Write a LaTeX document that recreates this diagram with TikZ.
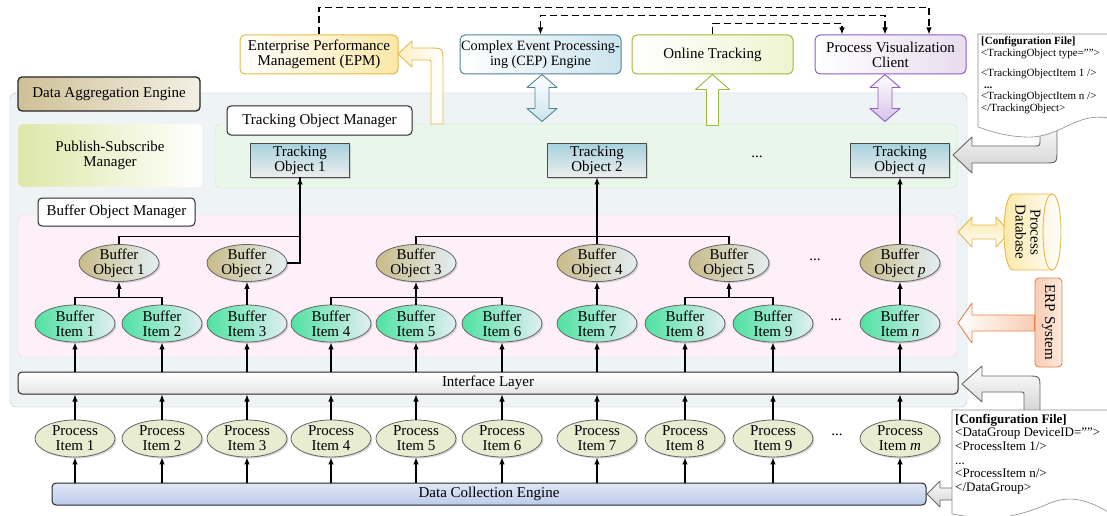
\documentclass[tikz,border=0pt]{standalone}
\usepackage{fontspec}
\setmainfont{Liberation Serif}
\usetikzlibrary{arrows.meta,shadows,shapes.geometric}

\definecolor{daefill}{HTML}{EEF3F6}
\definecolor{daeline}{HTML}{B9C5CD}
\definecolor{daetan}{HTML}{CFC196}
\definecolor{psmfill}{HTML}{DDE8A8}
\definecolor{tomfill}{HTML}{E8F7E9}
\definecolor{bomfill}{HTML}{FDF0F8}
\definecolor{botan}{HTML}{C9BB88}
\definecolor{boblue}{HTML}{E3EEF4}
\definecolor{bigreen}{HTML}{4FE2A2}
\definecolor{pifill}{HTML}{E8ECD1}
\definecolor{toblue}{HTML}{A6D2DE}
\definecolor{dceblue}{HTML}{BCCBEA}
\definecolor{epmdraw}{HTML}{E6B94A}
\definecolor{epmfill}{HTML}{FBE8A8}
\definecolor{cepdraw}{HTML}{4E8597}
\definecolor{cepfill}{HTML}{CBE4EE}
\definecolor{onldraw}{HTML}{9DBB3A}
\definecolor{onlfill}{HTML}{EEF5D0}
\definecolor{pvcdraw}{HTML}{8F5DC9}
\definecolor{pvcfill}{HTML}{E8DCEE}
\definecolor{erpdraw}{HTML}{E5834F}
\definecolor{erpfill}{HTML}{F8CDB3}

\begin{document}
\begin{tikzpicture}[x=1pt,y=-1pt,
  >={Latex[length=7pt,width=5.5pt]},
  every node/.append style={font=\fontsize{15pt}{15pt}\selectfont},
  link/.style={line width=1.1pt},
  dashlink/.style={line width=1.2pt, dash pattern=on 7pt off 4pt},
  tag/.style={draw=black!85, fill=white, line width=1pt, rounded corners=4pt},
  topbox/.style 2 args={draw=#1, left color=white, right color=#2, rounded corners=5pt,
    line width=1pt, minimum height=39pt, align=center, inner sep=1pt},
  oval/.style={ellipse, draw=black!60, line width=0.8pt, align=center,
    minimum width=80pt, minimum height=37pt, inner xsep=0pt, inner ysep=-1.5pt,
    drop shadow={shadow xshift=1.5pt, shadow yshift=-1.5pt, opacity=0.3}},
  bobj/.style={oval, left color=botan, right color=boblue},
  bitem/.style={oval, left color=bigreen, right color=boblue},
  pitem/.style={oval, fill=pifill},
  tobj/.style={draw=black!70, line width=0.9pt, top color=toblue, bottom color=black!7,
    minimum width=99pt, minimum height=34pt, inner sep=1pt, align=center,
    drop shadow={shadow xshift=1.5pt, shadow yshift=-1.5pt, opacity=0.3}},
  bar/.style={draw=black!85, line width=1pt, rounded corners=4pt, minimum height=22pt, inner sep=0pt},
  blk/.style={line width=0.9pt, line join=round},
  conf/.style={draw=black!45, fill=white, line width=0.6pt}
]
\useasboundingbox (0,0) rectangle (1107,516);
\fill[white] (0,0) rectangle (1107,516);

% Data aggregation engine with its managers
\node[draw=daeline, fill=daefill, rounded corners=6pt, minimum width=957pt, minimum height=314pt] (dae) at (488.5,250) {};
\node[tag, left color=daetan, right color=daetan!25, line width=1.3pt, minimum width=182pt, minimum height=34pt] (daetag) at (109,94) {Data Aggregation Engine};
\node[left color=psmfill, right color=white, draw=white, rounded corners=4pt, minimum width=184pt, minimum height=63pt, align=center] (psm) at (110,155.5) {Publish-Subscribe\\Manager};
\node[draw=green!15!gray!30, fill=tomfill, rounded corners=5pt, minimum width=742pt, minimum height=64pt] (tom) at (586,156) {};
\node[tag, minimum width=185pt, minimum height=29pt] (tomtag) at (319.5,120.5) {Tracking Object Manager};
\node[draw=red!10!gray!25, fill=bomfill, rounded corners=5pt, minimum width=939pt, minimum height=142pt] (bom) at (487.5,286) {};
\node[tag, minimum width=157pt, minimum height=28pt] (bomtag) at (116.5,212) {Buffer Object Manager};

% Tracking objects
\node[tobj] (to1) at (300,160) {Tracking\\Object 1};
\node[tobj] (to2) at (597,160) {Tracking\\Object 2};
\node[tobj] (toq) at (900,160) {Tracking\\Object \textit{q}};
\node (todots) at (757,157) {...};

% Buffer objects
\node[bobj] (bo1) at (119,263) {Buffer\\Object 1};
\node[bobj] (bo2) at (247,263) {Buffer\\Object 2};
\node[bobj] (bo3) at (416,263) {Buffer\\Object 3};
\node[bobj] (bo4) at (597,263) {Buffer\\Object 4};
\node[bobj] (bo5) at (729,263) {Buffer\\Object 5};
\node[bobj] (bop) at (900,263) {Buffer\\Object \textit{p}};
\node (bodots) at (815,260) {...};

% Buffer items and process items
\foreach \i/\x in {1/75,2/162,3/247,4/331,5/416,6/502,7/597,8/685,9/773}{
  \node[bitem] (bi\i) at (\x,323.5) {Buffer\\Item \i};
  \node[pitem] (pi\i) at (\x,438.5) {Process\\Item \i};
}
\node[bitem] (bin) at (900,323.5) {Buffer\\Item \textit{n}};
\node[pitem] (pim) at (900,438.5) {Process\\Item \textit{m}};
\node (bidots) at (836,320) {...};
\node (pidots) at (837,435) {...};

% Interface and collection layers
\node[bar, top color=white, bottom color=black!10, minimum width=940pt] (il) at (488,383) {Interface Layer};
\node[bar, top color=dceblue!45, bottom color=dceblue, minimum width=874pt] (dce) at (489,494) {Data Collection Engine};

% Links between the levels
\foreach \i in {1,2,3,4,5,6,7,8,9,n}
  \draw[link,->] (bi\i.south |- il.north) -- (bi\i.south);
\foreach \i in {1,2,3,4,5,6,7,8,9,m}{
  \draw[link,->] (pi\i.north) -- (pi\i.north |- il.south);
  \draw[link,->] (pi\i.south |- dce.north) -- (pi\i.south);
}
\draw[link] (bi1.north) -- ++(0,-7) -| (bi2.north);
\draw[link,->] (bo1.south |- bi1.north) ++(0,-7) -- (bo1.south);
\draw[link,->] (bi3.north) -- (bo2.south);
\draw[link] (bi4.north) -- ++(0,-7) -| (bi6.north);
\draw[link,->] (bi5.north) -- (bo3.south);
\draw[link,->] (bi7.north) -- (bo4.south);
\draw[link] (bi8.north) -- ++(0,-7) -| (bi9.north);
\draw[link,->] (bo5.south |- bi8.north) ++(0,-7) -- (bo5.south);
\draw[link,->] (bin.north) -- (bop.south);
\draw[link,->] (bo1.north) -- ++(0,-8) -| (to1.south);
\draw[link] (bo2.east) -| (to1.south);
\draw[link] (bo3.north) -- ++(0,-8) -| (bo5.north);
\draw[link,->] (bo4.north) -- (to2.south);
\draw[link,->] (bop.north) -- (toq.south);

% Applications on top
\node[topbox={epmdraw}{epmfill}, minimum width=158pt] (epm) at (319,54.5) {Enterprise Performance\\Management (EPM)};
\node[topbox={cepdraw}{cepfill}, minimum width=161pt, font=\fontsize{14.2pt}{15pt}\selectfont] (cep) at (540.5,54.5) {Complex Event Processing-\\ing (CEP) Engine};
\node[topbox={onldraw}{onlfill}, minimum width=161pt] (onl) at (712.5,54.5) {Online Tracking};
\node[topbox={pvcdraw}{pvcfill}, minimum width=151pt] (pvc) at (890.5,54.5) {Process Visualization\\Client};

\draw[dashlink,->] (epm.north) -- ++(0,-27) -| ([xshift=38.5pt]pvc.north);
\draw[dashlink,<->] (cep.north) -- ++(0,-19) -| ([xshift=-5.5pt]pvc.north);
\draw[dashlink,->] (onl.north) -- ++(0,-11) -| ([xshift=-48.5pt]pvc.north);

% Block arrows to the applications
\draw[blk, draw=epmdraw, left color=epmfill!70, right color=white]
  (398,54) -- (412,41) -- (412,48) -- (428,48) .. controls (443,48) .. (443,62) -- (443,124)
  -- (431,124) -- (431,64) .. controls (431,60) .. (427,60) -- (412,60) -- (412,67) -- cycle;
\draw[blk, draw=cepdraw, top color=white, bottom color=cepfill]
  ([xshift=1.5pt]cep.south) -- ++(15,13) -- ++(-8,0) -- ++(0,21) -- ++(8,0) -- ++(-15,13)
  -- ++(-15,-13) -- ++(8,0) -- ++(0,-21) -- ++(-8,0) -- cycle;
\draw[blk, draw=onldraw, fill=white]
  (onl.south) -- ++(17,15) -- ++(-11,0) -- ++(0,36) -- ++(-12,0) -- ++(0,-36) -- ++(-11,0) -- cycle;
\draw[blk, draw=pvcdraw, top color=white, bottom color=pvcfill!80!pvcdraw]
  ([xshift=-5.5pt]pvc.south) -- ++(15,13) -- ++(-8,0) -- ++(0,21) -- ++(8,0) -- ++(-15,13)
  -- ++(-15,-13) -- ++(8,0) -- ++(0,-21) -- ++(-8,0) -- cycle;

% Process database and ERP system
\draw[blk, draw=epmdraw, top color=epmfill, bottom color=white]
  (958,232) -- (972,217) -- (972,225) -- (996,225) -- (996,217) -- (1010,232)
  -- (996,247) -- (996,239) -- (972,239) -- (972,247) -- cycle;
\draw[blk, draw=epmdraw, left color=epmfill, right color=white]
  (1052,194) -- (1013,194) .. controls (1001,194) and (1001,270) .. (1013,270) -- (1052,270)
  .. controls (1064,270) and (1064,194) .. (1052,194) -- cycle;
\draw[blk, draw=epmdraw] (1052,194) .. controls (1040,194) and (1040,270) .. (1052,270);
\node[rotate=-90, align=center] (db) at (1028,232) {Process\\Database};

\node[rotate=-90, draw=erpdraw, left color=erpfill, right color=erpfill!40, rounded corners=4pt,
  line width=0.9pt, minimum width=89pt, minimum height=27pt, inner sep=1pt] (erp) at (1048.5,322.5) {ERP System};
\draw[blk, draw=erpdraw, left color=white, right color=erpfill]
  (958,323) -- (972,303) -- (972,315) -- (erp.south |- 0,315) -- (erp.south |- 0,331) -- (972,331) -- (972,343) -- cycle;

% Configuration files
\draw[blk, draw=black!60, top color=white, bottom color=black!18]
  (953,155) -- (972,137) -- (972,146) -- (1034,146) .. controls (1040,146) .. (1040,140) -- (1040,118)
  -- (1057,118) -- (1057,150) .. controls (1057,163) .. (1044,163) -- (972,163) -- (972,173) -- cycle;
\draw[conf] (978,34) -- (1108,34) -- (1108,118) .. controls (1075,112) and (1060,139) .. (1025,137)
  .. controls (1003,136) and (990,131) .. (978,127) -- cycle;
\node[anchor=north west, align=left, inner sep=0pt, font=\fontsize{11pt}{11.5pt}\selectfont] (tocfg) at (981,37)
  {\textbf{[Configuration File]}\\<TrackingObject type="">\\[9pt]<TrackingObjectItem 1 />\\
   \hspace*{3pt}\textbf{...}\\<TrackingObjectItem n />\\</TrackingObject>};

\draw[blk, draw=black!60, top color=white, bottom color=black!18]
  (962,384) -- (982,366) -- (982,376) -- (1027,376) .. controls (1040,376) .. (1040,389) -- (1040,415)
  -- (1024,415) -- (1024,396) .. controls (1024,392) .. (1020,392) -- (982,392) -- (982,402) -- cycle;
\draw[blk, draw=black!60, top color=white, bottom color=black!18]
  (927,494) -- (940,481) -- (940,488) -- (958,488) -- (958,500) -- (940,500) -- (940,507) -- cycle;
\draw[conf] (952,410) -- (1108,410) -- (1108,512) .. controls (1085,498) and (1068,496) .. (1050,503)
  .. controls (1030,512) and (1000,522) .. (970,517) -- (952,514) -- cycle;
\node[anchor=north west, align=left, inner sep=0pt, font=\fontsize{13pt}{13.6pt}\selectfont] (dgcfg) at (955,414)
  {\textbf{[Configuration File]}\\<DataGroup DeviceID="">\\<ProcessItem 1/>\\...\\<ProcessItem n/>\\</DataGroup>};
\end{tikzpicture}
\end{document}
